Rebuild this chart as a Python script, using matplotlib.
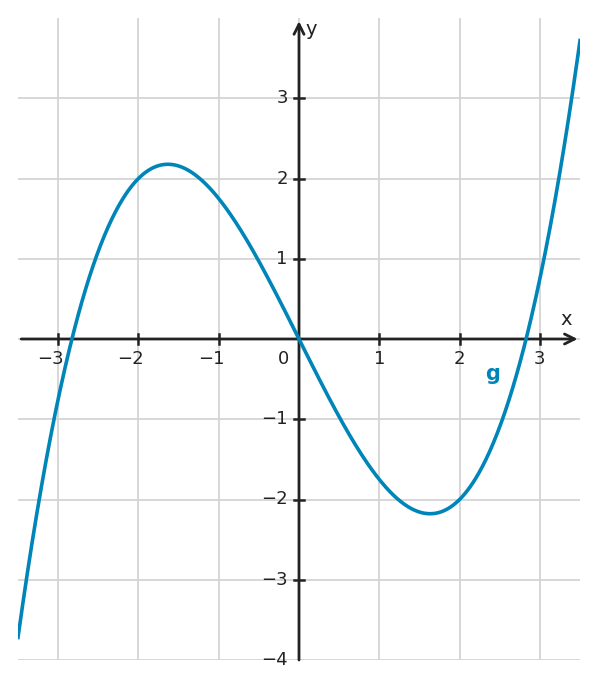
import numpy as np
import matplotlib.pyplot as plt

plt.rcParams['font.family'] = ['DejaVu Sans']

# g(x) = a3*x^3 + a2*x^2 + a1*x + a0, coefficients
# (roots at 0 and about ±2.83, extremes about ±2.18 at x ≈ ∓1.63)
g_coeffs = [0.25, 0.0, -2.0, 0.0]
x_ticks = [-3, -2, -1, 1, 2, 3]
y_ticks = [-3, -2, -1, 1, 2, 3]
grid_x = [-3, -2, -1, 0, 1, 2, 3]
grid_y = [-4, -3, -2, -1, 0, 1, 2, 3]

xmin, xmax = -3.5, 3.5
ymin, ymax = -4.0, 4.0
axis_col = '#222222'
curve_col = '#0085b9'
grid_col = '#d4d4d4'
fs = 13

fig = plt.figure(figsize=(5.99, 6.89), dpi=100)
ax = fig.add_axes([18 / 599, 29 / 689, 562 / 599, 642 / 689])
ax.set_xlim(xmin, xmax)
ax.set_ylim(ymin, ymax)
ax.axis('off')

# grid
for gx in grid_x:
    ax.plot([gx, gx], [ymin, ymax], color=grid_col, lw=1.3, zorder=0)
for gy in grid_y:
    ax.plot([xmin, xmax], [gy, gy], color=grid_col, lw=1.3, zorder=0)

# axes with arrows
ax.annotate('', xy=(3.47, 0), xytext=(-3.46, 0),
            arrowprops=dict(arrowstyle='->', color=axis_col, lw=2,
                            mutation_scale=18, shrinkA=0, shrinkB=0), zorder=3)
ax.annotate('', xy=(0, 3.96), xytext=(0, ymin),
            arrowprops=dict(arrowstyle='->', color=axis_col, lw=2,
                            mutation_scale=18, shrinkA=0, shrinkB=0), zorder=3)
ax.text(3.26, 0.12, 'x', fontsize=14, color=axis_col, ha='left', va='bottom')
ax.text(0.08, 3.97, 'y', fontsize=14, color=axis_col, ha='left', va='top')


def lab(v):
    return f'{v}'.replace('-', '\u2212')


# ticks and labels (digit centred under the tick, minus hangs left)
for t in x_ticks:
    ax.plot([t, t], [-0.06, 0.06], color=axis_col, lw=1.8, zorder=3)
    if t < 0:
        ax.text(t + 0.07, -0.14, lab(t), fontsize=fs, color=axis_col,
                ha='right', va='top')
    else:
        ax.text(t, -0.14, lab(t), fontsize=fs, color=axis_col,
                ha='center', va='top')
for t in y_ticks:
    ax.plot([-0.06, 0.06], [t, t], color=axis_col, lw=1.8, zorder=3)
    ax.text(-0.14, t, lab(t), fontsize=fs, color=axis_col,
            ha='right', va='center')
ax.plot([-0.06, 0.06], [ymin, ymin], color=grid_col, lw=1.8, zorder=1)
ax.text(-0.14, ymin, lab(-4), fontsize=fs, color=axis_col,
        ha='right', va='center')
ax.text(-0.12, -0.14, '0', fontsize=fs, color=axis_col, ha='right', va='top')

# curve
xs = np.linspace(xmin, xmax, 600)
ax.plot(xs, np.polyval(g_coeffs, xs), color=curve_col, lw=2.6,
        zorder=4, clip_on=True)
ax.text(2.41, -0.44, 'g', fontsize=15, fontweight='bold', color=curve_col,
        ha='center', va='center')

fig.savefig('out.png', dpi=100)
